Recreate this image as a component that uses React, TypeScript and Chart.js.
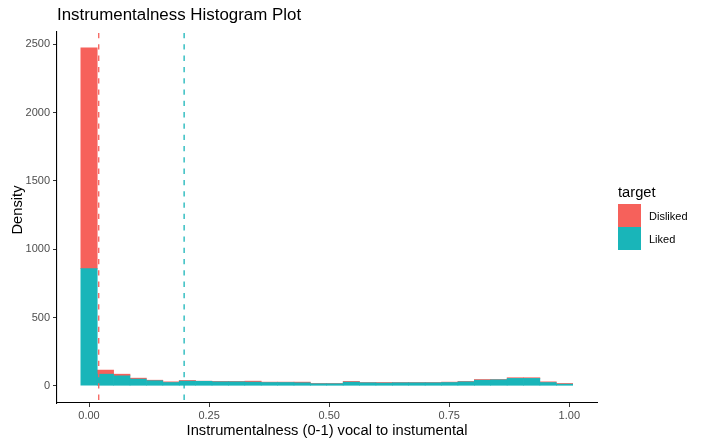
import React, { useEffect, useRef } from 'react';
import Chart from 'chart.js/auto';

// histogram bin centres (30 bins, ggplot style)
const binCenters = [
  0, 0.0341, 0.0683, 0.1024, 0.1366, 0.1707, 0.2048, 0.239, 0.2731, 0.3072,
  0.3414, 0.3755, 0.4097, 0.4438, 0.4779, 0.5121, 0.5462, 0.5803, 0.6145, 0.6486,
  0.6828, 0.7169, 0.751, 0.7852, 0.8193, 0.8534, 0.8876, 0.9217, 0.9559, 0.99,
];

// stacked densities: Liked at the bottom, Disliked on top
const likedDensity = [
  858, 85, 73, 49, 37, 24, 34, 33, 29, 29,
  27, 24, 24, 22, 15, 15, 27, 22, 20, 22,
  22, 22, 24, 29, 41, 44, 54, 54, 24, 12,
];
const dislikedDensity = [
  1617, 30, 12, 7, 4, 5, 5, 1, 3, 3,
  7, 3, 3, 5, 2, 2, 5, 2, 4, 2,
  2, 2, 3, 3, 5, 2, 5, 5, 5, 5,
];

const targets = ['Disliked', 'Liked'];
const targetColors = ['#F6615B', '#19B5B9'];
// mean instrumentalness per group (dashed lines)
const groupMeans = [0.0202, 0.198];

const xTicks = [0, 0.25, 0.5, 0.75, 1.0];
const yTicks = [0, 500, 1000, 1500, 2000, 2500];

const FONT = "'Liberation Sans', Arial, Helvetica, sans-serif";

const overlay = {
  id: 'ggOverlay',
  afterDatasetsDraw(chart: any) {
    const { ctx, chartArea, scales } = chart;
    ctx.save();
    ctx.lineWidth = 1.3;
    ctx.setLineDash([5.3, 6]);
    groupMeans.forEach((m, i) => {
      const px = scales.x.getPixelForValue(m);
      ctx.strokeStyle = targetColors[i];
      ctx.beginPath();
      ctx.moveTo(px, chartArea.top + 1);
      ctx.lineTo(px, chartArea.bottom);
      ctx.stroke();
    });
    ctx.restore();
  },
  afterDraw(chart: any) {
    const { ctx, chartArea } = chart;
    ctx.save();
    ctx.fillStyle = '#000';
    ctx.textBaseline = 'alphabetic';

    // title
    ctx.font = `16.9px ${FONT}`;
    ctx.textAlign = 'left';
    ctx.fillText('Instrumentalness Histogram Plot', chartArea.left, 20);

    // x axis title
    ctx.font = `14.7px ${FONT}`;
    ctx.textAlign = 'center';
    ctx.fillText('Instrumentalness (0-1) vocal to instumental', (chartArea.left + chartArea.right) / 2, 435);

    // y axis title
    ctx.save();
    ctx.translate(22, 210);
    ctx.rotate(-Math.PI / 2);
    ctx.fillText('Density', 0, 0);
    ctx.restore();

    // legend
    ctx.textAlign = 'left';
    ctx.fillText('target', 618, 197);
    ctx.font = `11px ${FONT}`;
    targets.forEach((t, i) => {
      const top = 204 + i * 23;
      ctx.fillStyle = targetColors[i];
      ctx.fillRect(618, top, 23, 23);
      ctx.fillStyle = '#000';
      ctx.fillText(t, 649, top + 16);
    });
    ctx.restore();
  },
};

const App: React.FC = () => {
  const canvasRef = useRef<HTMLCanvasElement | null>(null);
  const chartRef = useRef<Chart | null>(null);

  useEffect(() => {
    if (!canvasRef.current) return;
    if (chartRef.current) chartRef.current.destroy();

    const axisGrid = {
      display: true,
      drawOnChartArea: false,
      drawTicks: true,
      tickLength: 4,
      color: '#333333',
      lineWidth: 1,
      offset: false,
    };
    const axisBorder = { display: true, color: '#000000', width: 1.1 };

    chartRef.current = new Chart(canvasRef.current, {
      type: 'bar',
      data: {
        datasets: [
          {
            label: 'Liked',
            data: binCenters.map((x, i) => ({ x, y: likedDensity[i] })),
            backgroundColor: targetColors[1],
            borderWidth: 0,
            barPercentage: 1,
            categoryPercentage: 1,
          },
          {
            label: 'Disliked',
            data: binCenters.map((x, i) => ({ x, y: dislikedDensity[i] })),
            backgroundColor: targetColors[0],
            borderWidth: 0,
            barPercentage: 1,
            categoryPercentage: 1,
          },
        ],
      },
      options: {
        animation: false,
        responsive: false,
        layout: { padding: { top: 32, left: 0, right: 107, bottom: 0 } },
        plugins: {
          legend: { display: false },
          title: { display: false },
          tooltip: { enabled: false },
        },
        scales: {
          x: {
            type: 'linear',
            stacked: true,
            offset: false,
            min: -0.0667,
            max: 1.0577,
            afterBuildTicks: (s: any) => {
              s.ticks = xTicks.map((v) => ({ value: v }));
            },
            afterFit: (s: any) => {
              s.height = 42;
            },
            ticks: {
              autoSkip: false,
              maxRotation: 0,
              padding: 2,
              color: '#4d4d4d',
              font: { family: FONT, size: 11 },
              callback: (v: any) => Number(v).toFixed(2),
            },
            grid: axisGrid,
            border: axisBorder,
          },
          y: {
            type: 'linear',
            stacked: true,
            min: -126,
            max: 2590,
            afterBuildTicks: (s: any) => {
              s.ticks = yTicks.map((v) => ({ value: v }));
            },
            afterFit: (s: any) => {
              s.width = 57;
            },
            ticks: {
              autoSkip: false,
              padding: 3,
              color: '#4d4d4d',
              font: { family: FONT, size: 11 },
              callback: (v: any) => String(v),
            },
            grid: axisGrid,
            border: axisBorder,
          },
        },
      },
      plugins: [overlay],
    } as any);

    return () => {
      if (chartRef.current) {
        chartRef.current.destroy();
        chartRef.current = null;
      }
    };
  }, []);

  return (
    <div style={{ position: 'absolute', left: 0, top: 0, width: 704, height: 445, background: '#fff' }}>
      <canvas ref={canvasRef} width={704} height={445} style={{ width: 704, height: 445 }} />
    </div>
  );
};

export default App;
